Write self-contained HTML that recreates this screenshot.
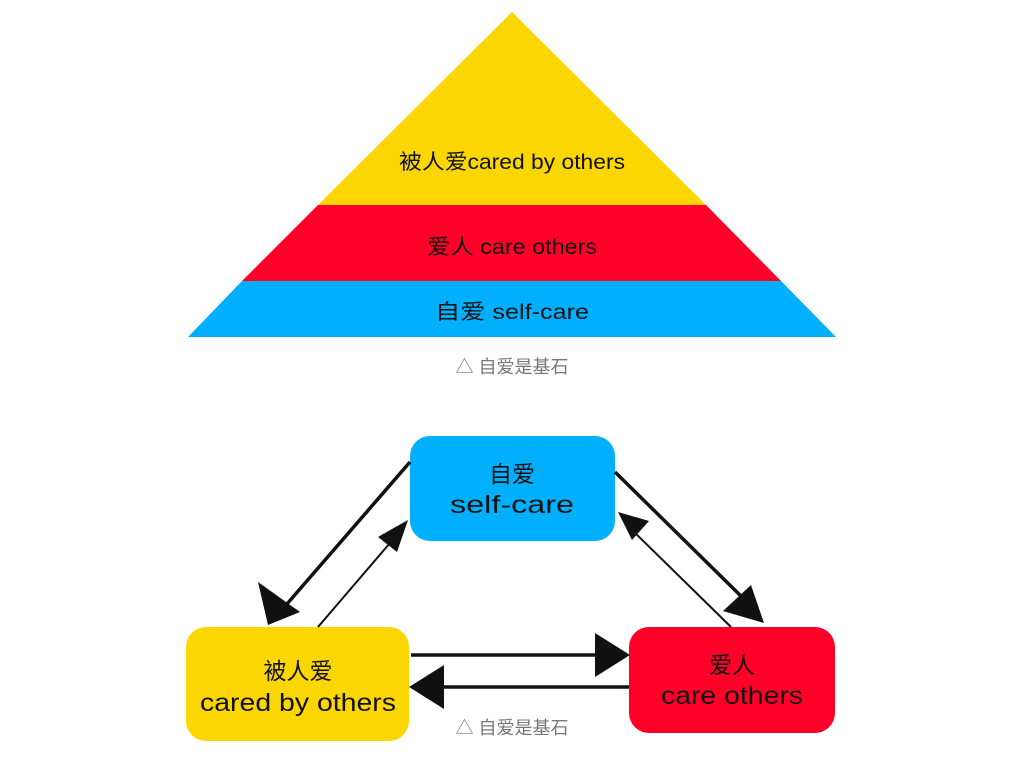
<!DOCTYPE html>
<html><head><meta charset="utf-8"><style>
body{margin:0;background:#fff;width:1024px;height:768px;overflow:hidden;font-family:"Liberation Sans","Noto Sans CJK SC",sans-serif;}
</style></head><body>
<svg width="1024" height="768" xmlns="http://www.w3.org/2000/svg" font-family="Liberation Sans, Noto Sans CJK SC, sans-serif">
<polygon points="512,12 706,205 318,205" fill="#fcd600"/>
<polygon points="318,205 706,205 781,281 242,281" fill="#ff0029"/>
<polygon points="242,281 781,281 836,337 188,337" fill="#00b0ff"/>
<text x="512" y="169" font-size="21" text-anchor="middle" fill="#111" textLength="226" lengthAdjust="spacingAndGlyphs">被人爱cared by others</text>
<text x="512" y="254" font-size="21" text-anchor="middle" fill="#111" textLength="170" lengthAdjust="spacingAndGlyphs">爱人 care others</text>
<text x="512" y="319" font-size="21" text-anchor="middle" fill="#111" textLength="154" lengthAdjust="spacingAndGlyphs">自爱 self-care</text>
<text x="512" y="373" font-size="18" text-anchor="middle" fill="#777">△ 自爱是基石</text>

<rect x="410" y="436" width="205" height="105" rx="20" fill="#00b0ff"/>
<rect x="186" y="627" width="223" height="114" rx="20" fill="#fcd600"/>
<rect x="629" y="627" width="206" height="106" rx="20" fill="#ff0029"/>
<text x="512" y="482" font-size="23" text-anchor="middle" fill="#111">自爱</text>
<text x="512" y="513" font-size="25" text-anchor="middle" fill="#111" textLength="124" lengthAdjust="spacingAndGlyphs">self-care</text>
<text x="298" y="679" font-size="23" text-anchor="middle" fill="#111">被人爱</text>
<text x="298" y="711" font-size="25" text-anchor="middle" fill="#111" textLength="196" lengthAdjust="spacingAndGlyphs">cared by others</text>
<text x="732" y="673" font-size="23" text-anchor="middle" fill="#111">爱人</text>
<text x="732" y="704" font-size="25" text-anchor="middle" fill="#111" textLength="142" lengthAdjust="spacingAndGlyphs">care others</text>

<g stroke="#111" fill="none">
<line x1="410" y1="462" x2="280" y2="612" stroke-width="3.5"/>
<polygon points="268,625 258,582 300,612" fill="#111" stroke="none"/>
<line x1="318" y1="627" x2="396" y2="536" stroke-width="2"/>
<polygon points="408,520 397,552 378,537" fill="#111" stroke="none"/>
<line x1="615" y1="472" x2="745" y2="600" stroke-width="3.5"/>
<polygon points="764,623 723,611 751,585" fill="#111" stroke="none"/>
<line x1="731" y1="627" x2="630" y2="528" stroke-width="2"/>
<polygon points="618,512 649,521 632,540" fill="#111" stroke="none"/>
<line x1="411" y1="655" x2="600" y2="655" stroke-width="3.5"/>
<polygon points="630,655 595,633 595,677" fill="#111" stroke="none"/>
<line x1="629" y1="687" x2="440" y2="687" stroke-width="3.5"/>
<polygon points="409,687 444,665 444,709" fill="#111" stroke="none"/>
</g>
<text x="512" y="734" font-size="18" text-anchor="middle" fill="#777">△ 自爱是基石</text>
</svg>
</body></html>
